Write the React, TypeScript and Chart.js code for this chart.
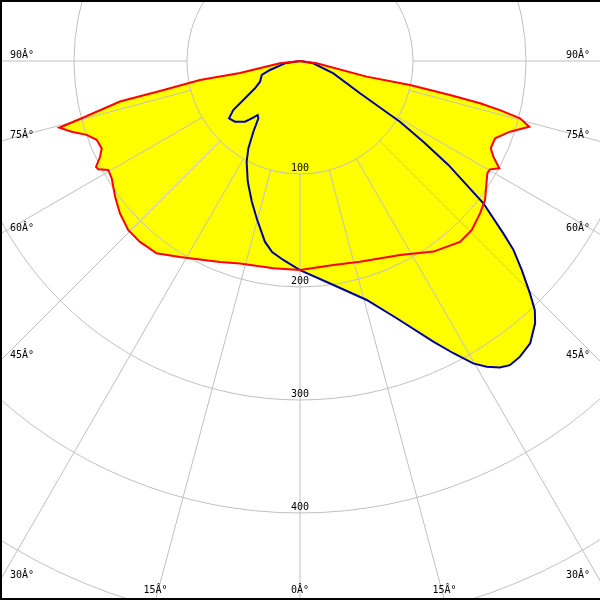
import React, { useEffect, useRef } from "react";
import { Chart, registerables } from "chart.js";

Chart.register(...registerables);

// C0-C180 plane (red): angle in degrees (negative = left), intensity
const redAngles = [
  -90, -83.4, -78.7, -79.2, -77.9, -77.3, -75.3, -74.5, -72.8, -70.9, -68.8, -66.2,
  -64.4, -62.6, -61.8, -60.4, -58.1, -53.7, -49.8, -45.5, -41.5, -36.7, -31.5, -21.7,
  -16.5, -7.3, 0, 9.3, 16.6, 27.3, 35.0, 41.5, 45.5, 49.8, 53.1, 59.1, 60.3, 61.7,
  63.7, 65.4, 68.4, 71.4, 74.0, 75.4, 76.2, 76.8, 77.2, 77.7, 76.8, 82.2, 90,
];
const redValues = [
  0, 17.8, 54.1, 90.1, 126.7, 163.3, 199.7, 221.0, 211.5, 199.8, 193.0, 191.8,
  196.2, 203.3, 202.6, 195.1, 196.3, 203.0, 208.7, 213.2, 213.7, 212.3, 203.4, 191.5,
  186.8, 185.0, 185.0, 182.9, 185.4, 193.1, 205.9, 213.7, 213.2, 208.7, 204.8, 193.2, 193.5, 200.3,
  190.9, 185.6, 185.7, 196.1, 211.1, 201.2, 182.2, 163.7, 136.1, 99.7, 60.6, 14.9, 0,
];

// C90-C270 plane (blue)
const blueAngles = [
  -90, -81.3, -73.3, -69.9, -62.6, -58.8, -55.5, -53.7, -51.1, -47.0, -42.2, -39.5,
  -38.1, -36.0, -33.4, -30.6, -27.9, -23.4, -18.9, -15.4, -11.0, -8.3, -4.8, 0,
  8.5, 15.6, 20.6, 25.4, 27.7, 29.8, 31.4, 33.1, 34.6, 36.6, 39.2, 41.9, 43.3,
  44.7, 46.7, 48.5, 49.7, 52.2, 55.0, 56.8, 58.7, 61.7, 69.7, 80.2, 90,
];
const blueValues = [
  0, 13.4, 27.7, 36.0, 39.8, 46.6, 60.9, 73.3, 80.7, 78.7, 72.5, 65.0,
  60.7, 62.7, 75.0, 89.8, 100.9, 116.4, 131.6, 144.4, 162.9, 170.8, 176.7, 185.0,
  200.4, 219.6, 243.2, 275.0, 292.1, 308.4, 317.0, 323.8, 327.0, 326.2, 322.3, 311.6, 303.0,
  289.3, 269.6, 252.2, 235.9, 205.4, 160.3, 130.4, 103.5, 60.3, 31.5, 11.9, 0,
];

const ringValues = [100, 200, 300, 400, 500, 600];
const ringLabels = ["100", "200", "300", "400"];
const spokeAngles = [-90, -75, -60, -45, -30, -15, 0, 15, 30, 45, 60, 75, 90];
const spokeLabels = spokeAngles.map((a) => `${Math.abs(a)}Â°`);

const SIZE = 600;
const CENTER_Y = 61;
const PX_PER_UNIT = 1.13;
const FONT = "10px 'DejaVu Sans Mono'";

function toXY(angles: number[], values: number[]) {
  return angles.map((a, i) => {
    const t = (a * Math.PI) / 180;
    return { x: values[i] * Math.sin(t), y: -values[i] * Math.cos(t) };
  });
}

function geom(chart: any) {
  const xs = chart.scales.x;
  const ys = chart.scales.y;
  const cx = xs.getPixelForValue(0);
  const cy = ys.getPixelForValue(0);
  const unit = xs.getPixelForValue(1) - cx;
  return { cx, cy, unit };
}

function drawGrid(chart: any) {
  const { ctx, chartArea } = chart;
  const { cx, cy, unit } = geom(chart);
  ctx.save();
  ctx.beginPath();
  ctx.rect(chartArea.left, chartArea.top, chartArea.right - chartArea.left, chartArea.bottom - chartArea.top);
  ctx.clip();
  ctx.strokeStyle = "#c0c0c0";
  ctx.lineWidth = 1;
  ringValues.forEach((r) => {
    ctx.beginPath();
    ctx.arc(cx, cy, r * unit, 0, Math.PI * 2);
    ctx.stroke();
  });
  spokeAngles.forEach((a) => {
    const t = (a * Math.PI) / 180;
    const r0 = ringValues[0] * unit;
    const r1 = 1200 * unit;
    ctx.beginPath();
    ctx.moveTo(cx + r0 * Math.sin(t), cy + r0 * Math.cos(t));
    ctx.lineTo(cx + r1 * Math.sin(t), cy + r1 * Math.cos(t));
    ctx.stroke();
  });
  ctx.restore();
}

function drawLabels(chart: any) {
  const { ctx, chartArea } = chart;
  const { cx, cy, unit } = geom(chart);
  const W = chartArea.right;
  const H = chartArea.bottom;
  ctx.save();
  ctx.font = FONT;
  ctx.fillStyle = "#000000";
  ctx.textBaseline = "alphabetic";
  ringLabels.forEach((lbl, i) => {
    ctx.textAlign = "center";
    ctx.fillText(lbl, cx, cy + ringValues[i] * unit - 3);
  });
  spokeAngles.forEach((a, i) => {
    const t = (a * Math.PI) / 180;
    const s = Math.sin(t);
    const c = Math.cos(t);
    const tx = s < -1e-9 ? (0 - cx) / s : s > 1e-9 ? (W - cx) / s : Infinity;
    const tb = c > 1e-9 ? (H - cy) / c : Infinity;
    if (tx < tb) {
      const y = cy + tx * c - 3;
      if (s < 0) {
        ctx.textAlign = "left";
        ctx.fillText(spokeLabels[i], 10, y);
      } else {
        ctx.textAlign = "right";
        ctx.fillText(spokeLabels[i], W - 10, y);
      }
    } else {
      ctx.textAlign = "center";
      ctx.fillText(spokeLabels[i], cx + tb * s, H - 7);
    }
  });
  ctx.fillStyle = "#000000";
  ctx.fillRect(0, 0, W, 2);
  ctx.fillRect(0, 0, 2, H);
  ctx.fillRect(0, H - 2, W, 2);
  ctx.restore();
}

const polarPlugin = {
  id: "polarGrid",
  beforeDatasetsDraw(chart: any) {
    chart.$gridDone = false;
  },
  beforeDatasetDraw(chart: any, args: any) {
    const ds = chart.data.datasets[args.index];
    if (ds.isOutline && !chart.$gridDone) {
      drawGrid(chart);
      chart.$gridDone = true;
    }
  },
  afterDatasetsDraw(chart: any) {
    if (!chart.$gridDone) {
      drawGrid(chart);
      chart.$gridDone = true;
    }
    drawLabels(chart);
  },
};

export default function App() {
  const ref = useRef<HTMLCanvasElement>(null);
  useEffect(() => {
    if (!ref.current) return;
    const red = toXY(redAngles, redValues);
    const blue = toXY(blueAngles, blueValues);
    const halfW = SIZE / 2 / PX_PER_UNIT;
    const yMax = CENTER_Y / PX_PER_UNIT;
    const yMin = yMax - SIZE / PX_PER_UNIT;
    const common = { showLine: true, pointRadius: 0, pointHoverRadius: 0, tension: 0 };
    const chart = new Chart(ref.current, {
      type: "scatter",
      data: {
        datasets: [
          { ...common, label: "fill-red", data: red, fill: "shape", backgroundColor: "#ffff00", borderColor: "rgba(0,0,0,0)", borderWidth: 0, order: 2 } as any,
          { ...common, label: "fill-blue", data: blue, fill: "shape", backgroundColor: "#ffff00", borderColor: "rgba(0,0,0,0)", borderWidth: 0, order: 2 } as any,
          { ...common, label: "C0-C180", data: red, fill: false, borderColor: "#ff0000", borderWidth: 2, order: 1, isOutline: true } as any,
          { ...common, label: "C90-C270", data: blue, fill: false, borderColor: "#0000a0", borderWidth: 2, order: 1, isOutline: true } as any,
        ],
      },
      options: {
        animation: false,
        responsive: false,
        devicePixelRatio: 1,
        layout: { padding: 0 },
        scales: {
          x: { type: "linear", min: -halfW, max: halfW, display: false },
          y: { type: "linear", min: yMin, max: yMax, display: false },
        },
        plugins: { legend: { display: false }, tooltip: { enabled: false } },
        events: [],
      },
      plugins: [polarPlugin],
    });
    return () => chart.destroy();
  }, []);
  return (
    <div style={{ position: "absolute", left: 0, top: 0, width: SIZE, height: SIZE, background: "#ffffff" }}>
      <canvas ref={ref} width={SIZE} height={SIZE} style={{ display: "block" }} />
    </div>
  );
}
